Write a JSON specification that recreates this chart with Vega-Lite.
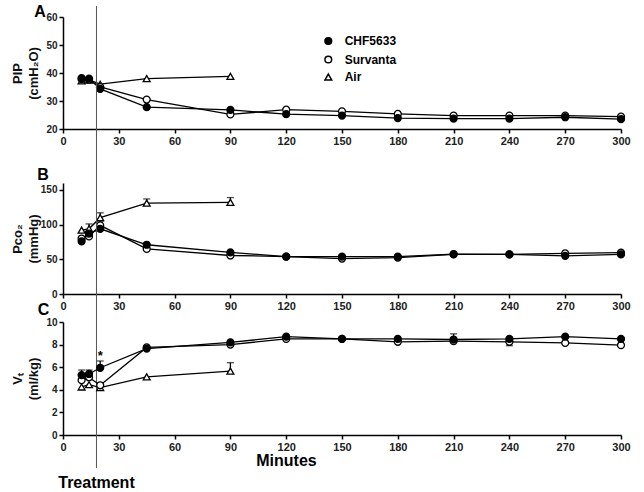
{
  "$schema": "https://vega.github.io/schema/vega-lite/v6.json",
  "padding": {"left": 10, "top": 3, "right": 5, "bottom": 5},
  "background": "white",
  "config": {
    "view": {"stroke": null},
    "font": "Liberation Sans",
    "axis": {
      "grid": false,
      "domainColor": "black",
      "domainWidth": 1.5,
      "tickColor": "black",
      "tickWidth": 1.5,
      "tickSize": 4,
      "tickCount": 30,
      "format": "d",
      "labelFont": "Liberation Sans",
      "labelFontWeight": "bold",
      "labelColor": "#222",
      "labelPadding": 2,
      "labelOverlap": false,
      "labelFlush": false,
      "titleFont": "Liberation Sans",
      "titleFontWeight": "bold",
      "titleColor": "#111"
    },
    "axisX": {"labelFontSize": 11},
    "axisY": {"labelFontSize": 10, "titleFontSize": 13, "titleLineHeight": 16, "titleX": -39}
  },
  "datasets": {
    "A": [
      {"s": "Air", "t": 10, "v": 37.2}, {"s": "Air", "t": 14, "v": 37.5}, {"s": "Air", "t": 20, "v": 36.0}, {"s": "Air", "t": 45, "v": 38.0}, {"s": "Air", "t": 90, "v": 38.8},
      {"s": "Survanta", "t": 10, "v": 37.8}, {"s": "Survanta", "t": 14, "v": 37.6}, {"s": "Survanta", "t": 20, "v": 35.0}, {"s": "Survanta", "t": 45, "v": 30.5}, {"s": "Survanta", "t": 90, "v": 25.2}, {"s": "Survanta", "t": 120, "v": 26.9}, {"s": "Survanta", "t": 150, "v": 26.3}, {"s": "Survanta", "t": 180, "v": 25.4}, {"s": "Survanta", "t": 210, "v": 24.8}, {"s": "Survanta", "t": 240, "v": 24.8}, {"s": "Survanta", "t": 270, "v": 24.8}, {"s": "Survanta", "t": 300, "v": 24.4},
      {"s": "CHF5633", "t": 10, "v": 38.2}, {"s": "CHF5633", "t": 14, "v": 38.0}, {"s": "CHF5633", "t": 20, "v": 34.3}, {"s": "CHF5633", "t": 45, "v": 27.8}, {"s": "CHF5633", "t": 90, "v": 26.8}, {"s": "CHF5633", "t": 120, "v": 25.3}, {"s": "CHF5633", "t": 150, "v": 24.8}, {"s": "CHF5633", "t": 180, "v": 23.9}, {"s": "CHF5633", "t": 210, "v": 23.7}, {"s": "CHF5633", "t": 240, "v": 23.7}, {"s": "CHF5633", "t": 270, "v": 24.2}, {"s": "CHF5633", "t": 300, "v": 23.5}
    ],
    "B": [
      {"s": "Air", "t": 10, "v": 92}, {"s": "Air", "t": 14, "v": 94, "hi": 101}, {"s": "Air", "t": 20, "v": 110, "hi": 117}, {"s": "Air", "t": 45, "v": 131, "hi": 137}, {"s": "Air", "t": 90, "v": 132, "hi": 139},
      {"s": "Survanta", "t": 10, "v": 80}, {"s": "Survanta", "t": 14, "v": 83}, {"s": "Survanta", "t": 20, "v": 99, "hi": 105}, {"s": "Survanta", "t": 45, "v": 65}, {"s": "Survanta", "t": 90, "v": 55.5}, {"s": "Survanta", "t": 120, "v": 54}, {"s": "Survanta", "t": 150, "v": 51}, {"s": "Survanta", "t": 180, "v": 52.5}, {"s": "Survanta", "t": 210, "v": 57}, {"s": "Survanta", "t": 240, "v": 57}, {"s": "Survanta", "t": 270, "v": 58.5}, {"s": "Survanta", "t": 300, "v": 59.5},
      {"s": "CHF5633", "t": 10, "v": 76}, {"s": "CHF5633", "t": 14, "v": 87}, {"s": "CHF5633", "t": 20, "v": 94}, {"s": "CHF5633", "t": 45, "v": 71}, {"s": "CHF5633", "t": 90, "v": 60}, {"s": "CHF5633", "t": 120, "v": 54}, {"s": "CHF5633", "t": 150, "v": 54}, {"s": "CHF5633", "t": 180, "v": 54}, {"s": "CHF5633", "t": 210, "v": 57.5}, {"s": "CHF5633", "t": 240, "v": 57}, {"s": "CHF5633", "t": 270, "v": 55}, {"s": "CHF5633", "t": 300, "v": 57}
    ],
    "C": [
      {"s": "Air", "t": 10, "v": 4.25}, {"s": "Air", "t": 14, "v": 4.45}, {"s": "Air", "t": 20, "v": 4.2}, {"s": "Air", "t": 45, "v": 5.15}, {"s": "Air", "t": 90, "v": 5.65, "hi": 6.4},
      {"s": "Survanta", "t": 10, "v": 4.85}, {"s": "Survanta", "t": 14, "v": 5.1}, {"s": "Survanta", "t": 20, "v": 4.4}, {"s": "Survanta", "t": 45, "v": 7.75}, {"s": "Survanta", "t": 90, "v": 8.0}, {"s": "Survanta", "t": 120, "v": 8.5}, {"s": "Survanta", "t": 150, "v": 8.5}, {"s": "Survanta", "t": 180, "v": 8.25}, {"s": "Survanta", "t": 210, "v": 8.3}, {"s": "Survanta", "t": 240, "v": 8.25, "hi": 7.9}, {"s": "Survanta", "t": 270, "v": 8.15}, {"s": "Survanta", "t": 300, "v": 7.95},
      {"s": "CHF5633", "t": 10, "v": 5.3, "hi": 5.75}, {"s": "CHF5633", "t": 14, "v": 5.4, "hi": 5.75}, {"s": "CHF5633", "t": 20, "v": 5.95, "hi": 6.55}, {"s": "CHF5633", "t": 45, "v": 7.65}, {"s": "CHF5633", "t": 90, "v": 8.2}, {"s": "CHF5633", "t": 120, "v": 8.7}, {"s": "CHF5633", "t": 150, "v": 8.5}, {"s": "CHF5633", "t": 180, "v": 8.5}, {"s": "CHF5633", "t": 210, "v": 8.45, "hi": 8.95}, {"s": "CHF5633", "t": 240, "v": 8.5}, {"s": "CHF5633", "t": 270, "v": 8.7}, {"s": "CHF5633", "t": 300, "v": 8.5}
    ]
  },
  "bounds": "flush",
  "spacing": 28,
  "resolve": {"scale": {"shape": "independent", "fill": "independent"}},
  "vconcat": [
    {
      "width": 558,
      "height": 112,
      "data": {"name": "A"},
      "layer": [
        {
          "mark": {"type": "line", "color": "black", "strokeWidth": 1.3},
          "encoding": {
            "x": {"field": "t", "type": "quantitative", "scale": {"domain": [0, 300]}, "axis": {"values": [0, 30, 60, 90, 120, 150, 180, 210, 240, 270, 300], "tickCount": 30, "format": "d", "title": null}},
            "y": {"field": "v", "type": "quantitative", "scale": {"domain": [20, 60], "range": [112, 0]}, "axis": {"values": [20, 30, 40, 50, 60], "tickCount": 30, "format": "d", "title": ["PIP", "(cmH₂O)"]}},
            "detail": {"field": "s", "type": "nominal"}
          }
        },
        {
          "mark": {"type": "point", "filled": true, "stroke": "black", "strokeWidth": 1.3, "size": 48, "opacity": 1},
          "encoding": {
            "x": {"field": "t", "type": "quantitative"},
            "y": {"field": "v", "type": "quantitative"},
            "shape": {"field": "s", "type": "nominal", "scale": {"domain": ["CHF5633", "Survanta", "Air"], "range": ["circle", "circle", "triangle-up"]},
              "legend": {"title": null, "orient": "none", "legendX": 259.3, "legendY": 18, "symbolSize": 45, "labelFontSize": 12, "labelFont": "Liberation Sans", "labelFontWeight": "bold", "labelColor": "black", "labelOffset": 10.4, "rowPadding": 4.5, "padding": 0,
                "encode": {"symbols": {
                  "shape": {"value": {"expr": "datum.value === 'Air' ? 'M-1.9,0.1H1.9M0,-0.866L-1,0.866L1,0.866Z' : 'M-1.9,0H1.9M-1,0A1,1,0,1,0,1,0A1,1,0,1,0,-1,0Z'"}},
                  "fill": {"value": {"expr": "datum.value === 'CHF5633' ? 'black' : 'white'"}},
                  "stroke": {"value": "black"},
                  "strokeWidth": {"value": 1.3},
                  "opacity": {"value": 1}
                }}}},
            "fill": {"field": "s", "type": "nominal", "scale": {"domain": ["CHF5633", "Survanta", "Air"], "range": ["black", "white", "white"]}, "legend": null}
          }
        },
        {
          "data": {"values": [{}]},
          "mark": {"type": "text", "text": "A", "fontSize": 16, "fontWeight": "bold", "font": "Liberation Sans", "align": "center", "baseline": "middle", "color": "black"},
          "encoding": {"x": {"datum": -12.4, "type": "quantitative"}, "y": {"datum": 61.8, "type": "quantitative"}}
        }
      ]
    },
    {
      "width": 558,
      "height": 137,
      "data": {"name": "B"},
      "layer": [
        {
          "transform": [{"filter": "isValid(datum.hi)"}],
          "mark": {"type": "rule", "color": "black", "strokeWidth": 1.3},
          "encoding": {
            "x": {"field": "t", "type": "quantitative", "scale": {"domain": [0, 300]}, "axis": {"values": [0, 30, 60, 90, 120, 150, 180, 210, 240, 270, 300], "tickCount": 30, "format": "d", "title": null}},
            "y": {"field": "v", "type": "quantitative", "scale": {"domain": [0, 150], "range": [137, 26]}, "axis": {"values": [0, 50, 100, 150], "tickCount": 30, "format": "d", "title": ["Pco₂", "(mmHg)"]}},
            "y2": {"field": "hi"}
          }
        },
        {
          "transform": [{"filter": "isValid(datum.hi)"}],
          "mark": {"type": "tick", "orient": "horizontal", "size": 7, "thickness": 1.3, "color": "black"},
          "encoding": {"x": {"field": "t", "type": "quantitative"}, "y": {"field": "hi", "type": "quantitative"}}
        },
        {
          "mark": {"type": "line", "color": "black", "strokeWidth": 1.3},
          "encoding": {"x": {"field": "t", "type": "quantitative"}, "y": {"field": "v", "type": "quantitative"}, "detail": {"field": "s", "type": "nominal"}}
        },
        {
          "mark": {"type": "point", "filled": true, "stroke": "black", "strokeWidth": 1.3, "size": 48, "opacity": 1},
          "encoding": {
            "x": {"field": "t", "type": "quantitative"},
            "y": {"field": "v", "type": "quantitative"},
            "shape": {"field": "s", "type": "nominal", "scale": {"domain": ["CHF5633", "Survanta", "Air"], "range": ["circle", "circle", "triangle-up"]}, "legend": null},
            "fill": {"field": "s", "type": "nominal", "scale": {"domain": ["CHF5633", "Survanta", "Air"], "range": ["black", "white", "white"]}, "legend": null}
          }
        },
        {
          "data": {"values": [{}]},
          "mark": {"type": "text", "text": "B", "fontSize": 16, "fontWeight": "bold", "font": "Liberation Sans", "align": "center", "baseline": "middle", "color": "black"},
          "encoding": {"x": {"datum": -10.8, "type": "quantitative"}, "y": {"datum": 171.6, "type": "quantitative"}}
        }
      ]
    },
    {
      "width": 558,
      "height": 113,
      "data": {"name": "C"},
      "layer": [
        {
          "transform": [{"filter": "isValid(datum.hi)"}],
          "mark": {"type": "rule", "color": "black", "strokeWidth": 1.3},
          "encoding": {
            "x": {"field": "t", "type": "quantitative", "scale": {"domain": [0, 300]}, "axis": {"values": [0, 30, 60, 90, 120, 150, 180, 210, 240, 270, 300], "tickCount": 30, "format": "d", "title": "Minutes", "titleFontSize": 16, "titleX": 223, "titleY": 25, "titleBaseline": "middle", "titleColor": "black"}},
            "y": {"field": "v", "type": "quantitative", "scale": {"domain": [0, 10], "range": [113, 0]}, "axis": {"values": [0, 2, 4, 6, 8, 10], "tickCount": 30, "format": "d", "title": ["Vₜ", "(ml/kg)"]}},
            "y2": {"field": "hi"}
          }
        },
        {
          "data": {"values": [{}]},
          "mark": {"type": "rule", "color": "#555", "strokeWidth": 1},
          "encoding": {"x": {"datum": 18, "type": "quantitative"}, "y": {"datum": -2.92, "type": "quantitative"}, "y2": {"datum": 37.96}}
        },
        {
          "transform": [{"filter": "isValid(datum.hi)"}],
          "mark": {"type": "tick", "orient": "horizontal", "size": 7, "thickness": 1.3, "color": "black"},
          "encoding": {"x": {"field": "t", "type": "quantitative"}, "y": {"field": "hi", "type": "quantitative"}}
        },
        {
          "mark": {"type": "line", "color": "black", "strokeWidth": 1.3},
          "encoding": {"x": {"field": "t", "type": "quantitative"}, "y": {"field": "v", "type": "quantitative"}, "detail": {"field": "s", "type": "nominal"}}
        },
        {
          "mark": {"type": "point", "filled": true, "stroke": "black", "strokeWidth": 1.3, "size": 48, "opacity": 1},
          "encoding": {
            "x": {"field": "t", "type": "quantitative"},
            "y": {"field": "v", "type": "quantitative"},
            "shape": {"field": "s", "type": "nominal", "scale": {"domain": ["CHF5633", "Survanta", "Air"], "range": ["circle", "circle", "triangle-up"]}, "legend": null},
            "fill": {"field": "s", "type": "nominal", "scale": {"domain": ["CHF5633", "Survanta", "Air"], "range": ["black", "white", "white"]}, "legend": null}
          }
        },
        {
          "data": {"values": [{}]},
          "mark": {"type": "text", "text": "*", "fontSize": 13, "fontWeight": "bold", "font": "Liberation Sans", "align": "center", "baseline": "middle", "color": "black"},
          "encoding": {"x": {"datum": 20, "type": "quantitative"}, "y": {"datum": 6.95, "type": "quantitative"}}
        },
        {
          "data": {"values": [{}]},
          "mark": {"type": "text", "text": "C", "fontSize": 16, "fontWeight": "bold", "font": "Liberation Sans", "align": "center", "baseline": "middle", "color": "black"},
          "encoding": {"x": {"datum": -10.5, "type": "quantitative"}, "y": {"datum": 11.06, "type": "quantitative"}}
        },
        {
          "data": {"values": [{}]},
          "mark": {"type": "text", "text": "Treatment", "fontSize": 16, "fontWeight": "bold", "font": "Liberation Sans", "align": "center", "baseline": "middle", "color": "black"},
          "encoding": {"x": {"datum": 18, "type": "quantitative"}, "y": {"datum": -4.25, "type": "quantitative"}}
        }
      ]
    }
  ]
}
